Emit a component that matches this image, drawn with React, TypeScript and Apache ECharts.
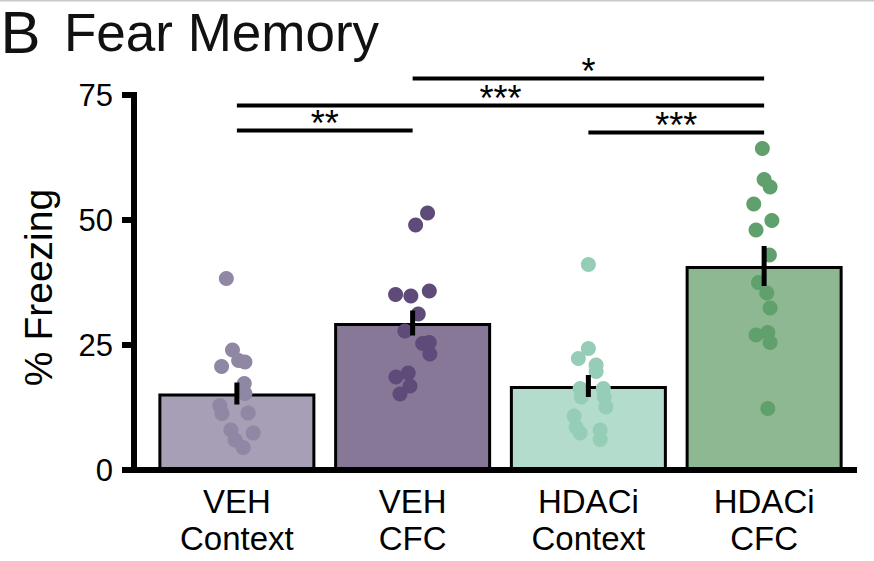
import React, { useEffect, useRef } from 'react';
import * as echarts from 'echarts';

const FONT = '"Liberation Sans", Arial, Helvetica, sans-serif';

const CATEGORIES = ['VEH\nContext', 'VEH\nCFC', 'HDACi\nContext', 'HDACi\nCFC'];
const MEANS = [15.3, 29.4, 16.8, 40.8];
const SEMS = [2.2, 2.5, 2.2, 4.0];
const BAR_COLORS = ['#a69fb5', '#877898', '#b3dccd', '#8db891'];
const DOT_COLORS = ['#8f87a3', '#5e4b7a', '#96cdb7', '#60a06c'];

const VEH_CONTEXT = [38.3, 24.0, 21.9, 21.6, 20.7, 17.3, 15.3, 12.9, 11.3, 11.4, 8.0, 7.4, 6.0, 4.5];
const VEH_CONTEXT_X = [-0.06, -0.025, 0.01, 0.046, -0.087, 0.042, 0.046, -0.097, -0.085, 0.064, -0.034, 0.093, -0.01, 0.036];

const VEH_CFC = [51.4, 49.0, 35.1, 34.8, 35.8, 31.2, 27.8, 25.3, 25.5, 23.2, 18.6, 19.4, 16.8, 15.2];
const VEH_CFC_X = [0.085, 0.017, -0.097, -0.01, 0.095, 0.032, -0.044, 0.057, 0.095, 0.098, -0.095, -0.025, -0.015, -0.072];

const HDACI_CONTEXT = [41.1, 24.3, 22.3, 21.0, 19.7, 16.3, 14.6, 16.3, 14.6, 12.6, 10.8, 8.6, 7.4, 8.0, 6.1];
const HDACI_CONTEXT_X = [0, 0.0, -0.057, 0.044, 0.044, -0.047, -0.04, 0.085, 0.09, 0.1, -0.081, -0.07, -0.047, 0.067, 0.067];

const HDACI_CFC = [64.3, 58.1, 56.6, 53.2, 49.9, 48.0, 43.0, 37.5, 35.4, 32.4, 27.0, 27.5, 25.5, 12.3];
const HDACI_CFC_X = [-0.01, 0, 0.034, -0.059, 0.044, -0.046, 0.03, -0.032, 0.015, 0.034, -0.046, 0.021, 0.034, 0.021];

const GROUP_VALUES = [VEH_CONTEXT, VEH_CFC, HDACI_CONTEXT, HDACI_CFC];
const GROUP_JITTER = [VEH_CONTEXT_X, VEH_CFC_X, HDACI_CONTEXT_X, HDACI_CFC_X];

const SIG_FROM = [1, 0, 0, 2];
const SIG_TO = [3, 3, 1, 3];
const SIG_Y = [78.3, 72.9, 67.9, 67.5];
const SIG_LABEL = ['*', '***', '**', '***'];

const Y_MIN = 0;
const Y_MAX = 75;
const Y_INTERVAL = 25;

export default function App() {
  const ref = useRef<HTMLDivElement>(null);

  useEffect(() => {
    if (!ref.current) return;
    const chart = echarts.init(ref.current, null, { renderer: 'svg' });

    const scatterSeries = GROUP_VALUES.map((vals, i) => ({
      type: 'scatter',
      xAxisIndex: 2,
      yAxisIndex: 0,
      symbolSize: 15,
      z: 3,
      itemStyle: { color: DOT_COLORS[i], opacity: 1 },
      data: vals.map((v, j) => [i + GROUP_JITTER[i][j], v]),
      silent: true,
    }));

    const option: any = {
      animation: false,
      backgroundColor: '#ffffff',
      textStyle: { fontFamily: FONT },
      graphic: [
        { type: 'rect', x: 0, y: 0, shape: { width: 874, height: 1.5 }, style: { fill: '#c8c8c8' } },
        {
          type: 'text',
          x: 0.5,
          y: 2.5,
          style: { text: 'B', fontSize: 60, lineHeight: 60, fontFamily: FONT, fill: '#111', align: 'left', verticalAlign: 'top' },
        },
        {
          type: 'text',
          x: 64,
          y: 6,
          style: { text: 'Fear Memory', fontSize: 53, lineHeight: 53, fontFamily: FONT, fill: '#111', align: 'left', verticalAlign: 'top' },
        },
      ],
      grid: [
        { left: 149, right: 22, top: 95, bottom: 91 },
        { left: 134, right: 20, top: 95, bottom: 91 },
      ],
      xAxis: [
        {
          type: 'category',
          gridIndex: 0,
          data: CATEGORIES,
          axisLine: { show: false },
          axisTick: { show: false },
          axisLabel: { interval: 0, fontSize: 33, lineHeight: 37, color: '#000', margin: 13, fontFamily: FONT },
          splitLine: { show: false },
        },
        {
          type: 'value',
          gridIndex: 1,
          min: 0,
          max: 1,
          axisLine: { show: true, lineStyle: { color: '#000', width: 6, cap: 'square' } },
          axisTick: { show: false },
          axisLabel: { show: false },
          splitLine: { show: false },
        },
        {
          type: 'value',
          gridIndex: 0,
          min: -0.5,
          max: 3.5,
          show: false,
          splitLine: { show: false },
        },
      ],
      yAxis: [
        { type: 'value', gridIndex: 0, min: Y_MIN, max: Y_MAX, show: false, splitLine: { show: false } },
        {
          type: 'value',
          gridIndex: 1,
          min: Y_MIN,
          max: Y_MAX,
          interval: Y_INTERVAL,
          name: '% Freezing',
          nameLocation: 'middle',
          nameGap: 76,
          nameTextStyle: { fontSize: 39, color: '#000', fontFamily: FONT, padding: [0, 10, 0, 0] },
          axisLine: { show: true, lineStyle: { color: '#000', width: 6, cap: 'square' } },
          axisTick: { show: true, length: 12, lineStyle: { color: '#000', width: 6 } },
          axisLabel: { fontSize: 31, color: '#000', margin: 21, fontFamily: FONT },
          splitLine: { show: false },
        },
      ],
      series: [
        {
          type: 'bar',
          xAxisIndex: 0,
          yAxisIndex: 0,
          barWidth: 157,
          z: 2,
          silent: true,
          itemStyle: { borderColor: '#000', borderWidth: 3 },
          data: MEANS.map((v, i) => ({ value: v, itemStyle: { color: BAR_COLORS[i], borderColor: '#000', borderWidth: 3 } })),
        },
        ...scatterSeries,
        {
          type: 'custom',
          xAxisIndex: 2,
          yAxisIndex: 0,
          z: 4,
          silent: true,
          encode: { x: 0, y: [1, 2] },
          data: MEANS.map((m, i) => [i, m - SEMS[i], m + SEMS[i]]),
          renderItem: (params: any, api: any) => {
            const p1 = api.coord([api.value(0), api.value(1)]);
            const p2 = api.coord([api.value(0), api.value(2)]);
            return {
              type: 'line',
              shape: { x1: p1[0], y1: p1[1], x2: p2[0], y2: p2[1] },
              style: { stroke: '#000', lineWidth: 5 },
            };
          },
        },
        {
          type: 'custom',
          xAxisIndex: 2,
          yAxisIndex: 0,
          z: 5,
          silent: true,
          clip: false,
          encode: { x: [0, 1], y: 2 },
          data: SIG_FROM.map((f, i) => [f, SIG_TO[i], SIG_Y[i]]),
          renderItem: (params: any, api: any) => {
            const a = api.coord([api.value(0), api.value(2)]);
            const b = api.coord([api.value(1), api.value(2)]);
            return {
              type: 'group',
              children: [
                {
                  type: 'line',
                  shape: { x1: a[0], y1: a[1], x2: b[0], y2: b[1] },
                  style: { stroke: '#000', lineWidth: 4 },
                },
                {
                  type: 'text',
                  x: (a[0] + b[0]) / 2,
                  y: a[1] - 7,
                  style: {
                    text: SIG_LABEL[params.dataIndex],
                    align: 'center',
                    verticalAlign: 'middle',
                    fontSize: 36,
                    fontFamily: FONT,
                    fill: '#000',
                  },
                },
              ],
            };
          },
        },
      ],
    };

    chart.setOption(option);
    return () => chart.dispose();
  }, []);

  return (
    <div
      ref={ref}
      style={{ position: 'fixed', left: 0, top: 0, width: 874, height: 561, background: '#fff' }}
    />
  );
}
